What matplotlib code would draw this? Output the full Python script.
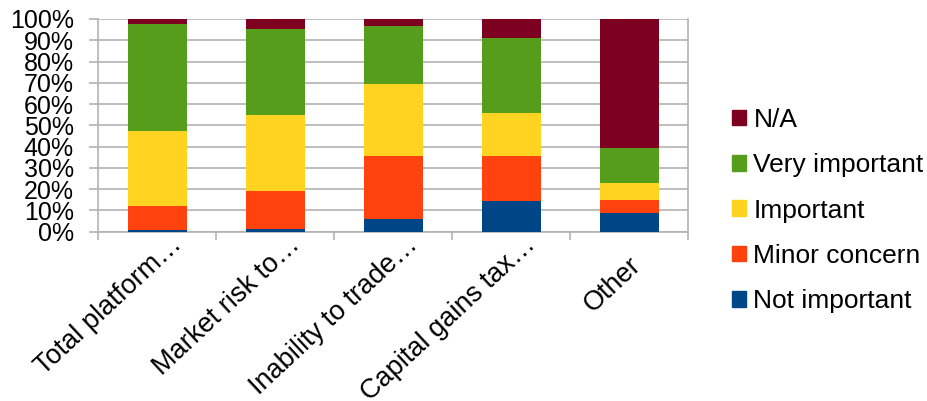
import numpy as np
import matplotlib.pyplot as plt
from matplotlib.ticker import FixedLocator, PercentFormatter
from matplotlib.patches import Patch
import matplotlib.transforms as mtransforms

plt.rcParams['font.family'] = ['Liberation Sans', 'DejaVu Sans']

categories = ['Total platform…', 'Market risk to…', 'Inability to trade…',
              'Capital gains tax…', 'Other']
series = ['Not important', 'Minor concern', 'Important', 'Very important', 'N/A']
not_important = [0.8, 1.4, 6.0, 14.6, 8.9]
minor_concern = [11.3, 17.9, 29.7, 21.1, 6.1]
important = [35.2, 35.6, 33.9, 20.1, 8.0]
very_important = [50.3, 40.4, 27.1, 35.4, 16.5]
n_a = [2.4, 4.7, 3.3, 8.8, 60.5]
colors = ['#004586', '#ff420e', '#ffd320', '#579d1c', '#7e0021']

grid_col = '#b3b3b3'
label_fs = 19.5

fig = plt.figure(figsize=(9.27, 4.01), dpi=100)
ax = fig.add_axes([98 / 927, 1 - 231.7 / 401, 590 / 927, 212.7 / 401])

x = np.arange(len(categories))
bottom = np.zeros(len(categories))
for name, vals, col in zip(series, [not_important, minor_concern, important,
                                    very_important, n_a], colors):
    vals = np.array(vals)
    ax.bar(x, vals, 0.5, bottom=bottom, color=col, label=name, zorder=3)
    bottom += vals

ax.set_xlim(-0.5, len(categories) - 0.5)
ax.set_ylim(0, 100)
ax.set_yticks(np.arange(0, 101, 10))
ax.yaxis.set_major_formatter(PercentFormatter(decimals=0))
ax.grid(axis='y', color=grid_col, lw=1.2, zorder=0)
for s in ax.spines.values():
    s.set_color(grid_col)
    s.set_linewidth(1.2)
ax.spines['top'].set_visible(False)

ax.tick_params(axis='y', length=6.5, color=grid_col, width=1.2, labelsize=18,
               pad=11)
ax.set_xticks(x)
ax.set_xticklabels([])
ax.tick_params(axis='x', which='major', length=0)
ax.xaxis.set_minor_locator(FixedLocator(np.arange(-0.5, len(categories), 1)))
ax.tick_params(axis='x', which='minor', length=6, color=grid_col, width=1.2)

# rotated category labels; truncated ones sit further up along the slant
for xi, lab in zip(x, categories):
    if lab.endswith('…'):
        dx, dy = 12, 0
    else:
        dx, dy = 0, -20.5
    offset = mtransforms.ScaledTranslation(dx / 100, dy / 100, fig.dpi_scale_trans)
    ax.text(xi, 0, lab, rotation=43, ha='right', va='top',
            rotation_mode='anchor', fontsize=label_fs,
            transform=ax.get_xaxis_transform() + offset)

handles = [Patch(color=c, label=s) for s, c in zip(series, colors)][::-1]
fig.legend(handles=handles, loc='center left', bbox_to_anchor=(721 / 927, 0.475),
           frameon=False, fontsize=19, handlelength=0.53, handleheight=0.53,
           handletextpad=0.3, labelspacing=0.81, borderaxespad=0)

fig.savefig('out.png', dpi=100)
